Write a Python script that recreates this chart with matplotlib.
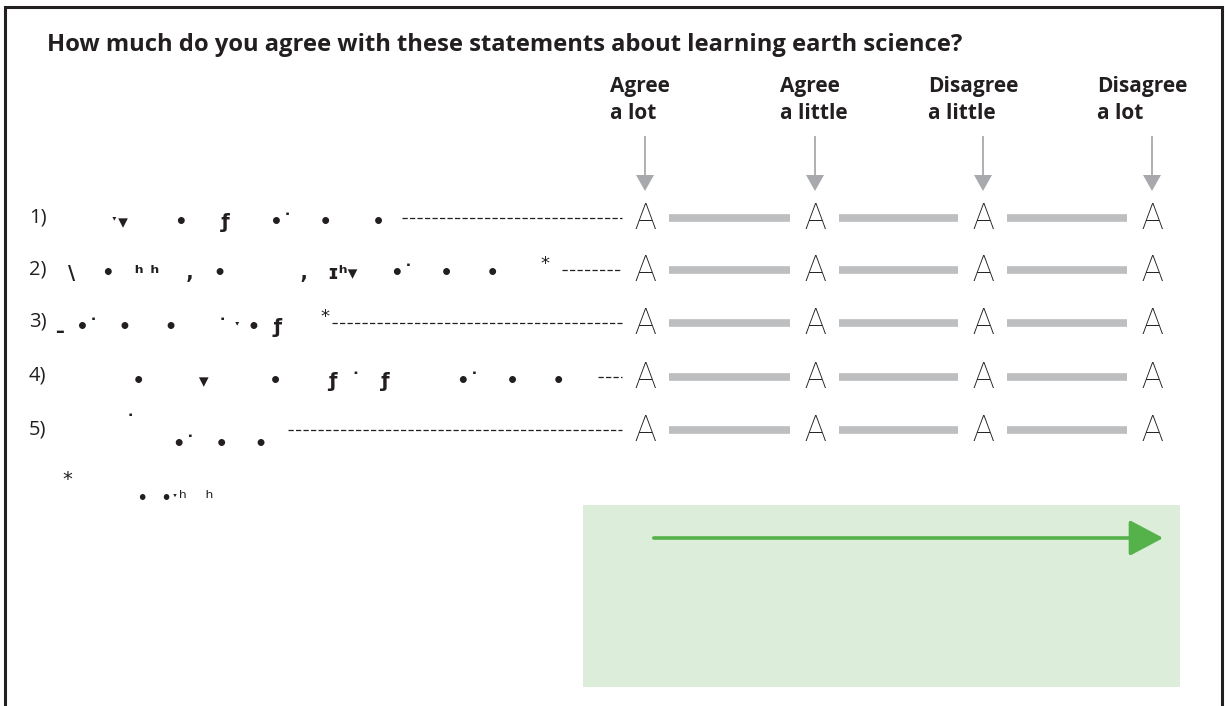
import matplotlib

matplotlib.use("Agg")
import matplotlib.pyplot as plt
from matplotlib.patches import Rectangle, FancyArrowPatch

# ---- content -------------------------------------------------------------
title = "How much do you agree with these statements about learning earth science?"
headers = ["Agree\na lot", "Agree\na little", "Disagree\na little", "Disagree\na lot"]
item_labels = ["1)", "2)", "3)", "4)", "5)"]
# garbled glyph runs as they appear in the source graphic
item_glyphs = [
    "  ˑ▾       •     ƒ      •˙    •      •",
    "\\    •   ʰ ʰ    ,   •           ,   ɪʰ▾     •˙    •     •",
    "ـ  •˙   •     •      ˙ ˑ •  ƒ",
    "      •        ▾         •       ƒ  ˙   ƒ          •˙    •     •",
    "     ˙\n            •˙   •    •",
]
item_stars = [False, True, True, False, False]
footnote = "*\n            •  •ˑʰ   ʰ"
choice_mark = "A"

# ---- layout (pixels) -----------------------------------------------------
W, H = 1225, 706
col_x = [645, 815, 983, 1152]
header_x = [610, 780, 928, 1097]
row_y = [218, 270, 323, 377, 430]
leader_start = [402, 562, 332, 598, 288]
leader_end = 622
glyph_x = [98, 68, 56, 92, 92]
star_x = [None, 540, 320, None, None]

fig = plt.figure(figsize=(W / 100, H / 100), dpi=100)
ax = fig.add_axes([0, 0, 1, 1])
ax.set_xlim(0, W)
ax.set_ylim(H, 0)
ax.axis("off")

# frame
ax.plot([5, 5, 1222, 1222], [H + 5, 7, 7, H + 5], color="#231f20", lw=2.2,
        solid_joinstyle="miter")

ax.text(47, 45, title, fontsize=17.1, fontweight="bold", family="Open Sans",
        color="#231f20", va="center", ha="left")

grey_arrow = "#a7a9ac"
for hx, cx, h in zip(header_x, col_x, headers):
    ax.text(hx, 76, h, fontsize=15, fontweight="bold", family="Open Sans",
            color="#231f20", va="top", ha="left", linespacing=1.4)
    ax.plot([cx, cx], [137, 178], color=grey_arrow, lw=1.3)
    ax.fill([cx - 9, cx + 9, cx], [175, 175, 191], color=grey_arrow, lw=0)

for i, (lab, gl, y) in enumerate(zip(item_labels, item_glyphs, row_y)):
    ax.text(29, y - 1, lab, fontsize=14.5, family="Open Sans", color="#231f20",
            va="center", ha="left")
    multi = "\n" in gl
    ax.text(glyph_x[i], y + 4 if not multi else y - 16, gl, fontsize=14,
            family="DejaVu Sans", fontweight="bold", color="#231f20",
            va="center" if not multi else "top", ha="left", linespacing=1.1)
    if item_stars[i]:
        ax.text(star_x[i], y - 6, "*", fontsize=13, color="#231f20",
                va="center", ha="left")
    ax.plot([leader_start[i], leader_end], [y, y], color="#231f20", lw=0.9,
            dashes=(4.2, 1.8))
    for cx in col_x:
        ax.text(cx, y + 1, choice_mark, fontsize=26, family="Roboto",
                fontweight="light", color="#231f20", va="center", ha="center")
    for a, b in zip(col_x[:-1], col_x[1:]):
        ax.plot([a + 24, b - 25], [y, y], color="#bcbec0", lw=5.5,
                solid_capstyle="butt")

ax.text(62, 470, footnote, fontsize=14, family="DejaVu Sans", color="#231f20",
        va="top", ha="left", linespacing=1.0)

# green explanation panel
ax.add_patch(Rectangle((583, 505), 597, 182, facecolor="#dcedda", lw=0))
ax.add_patch(FancyArrowPatch((651, 538), (1166, 538),
                             arrowstyle="-|>,head_length=1.6,head_width=0.85",
                             color="#55b14a", lw=2.6, mutation_scale=13))

fig.savefig("out.png", dpi=100)
